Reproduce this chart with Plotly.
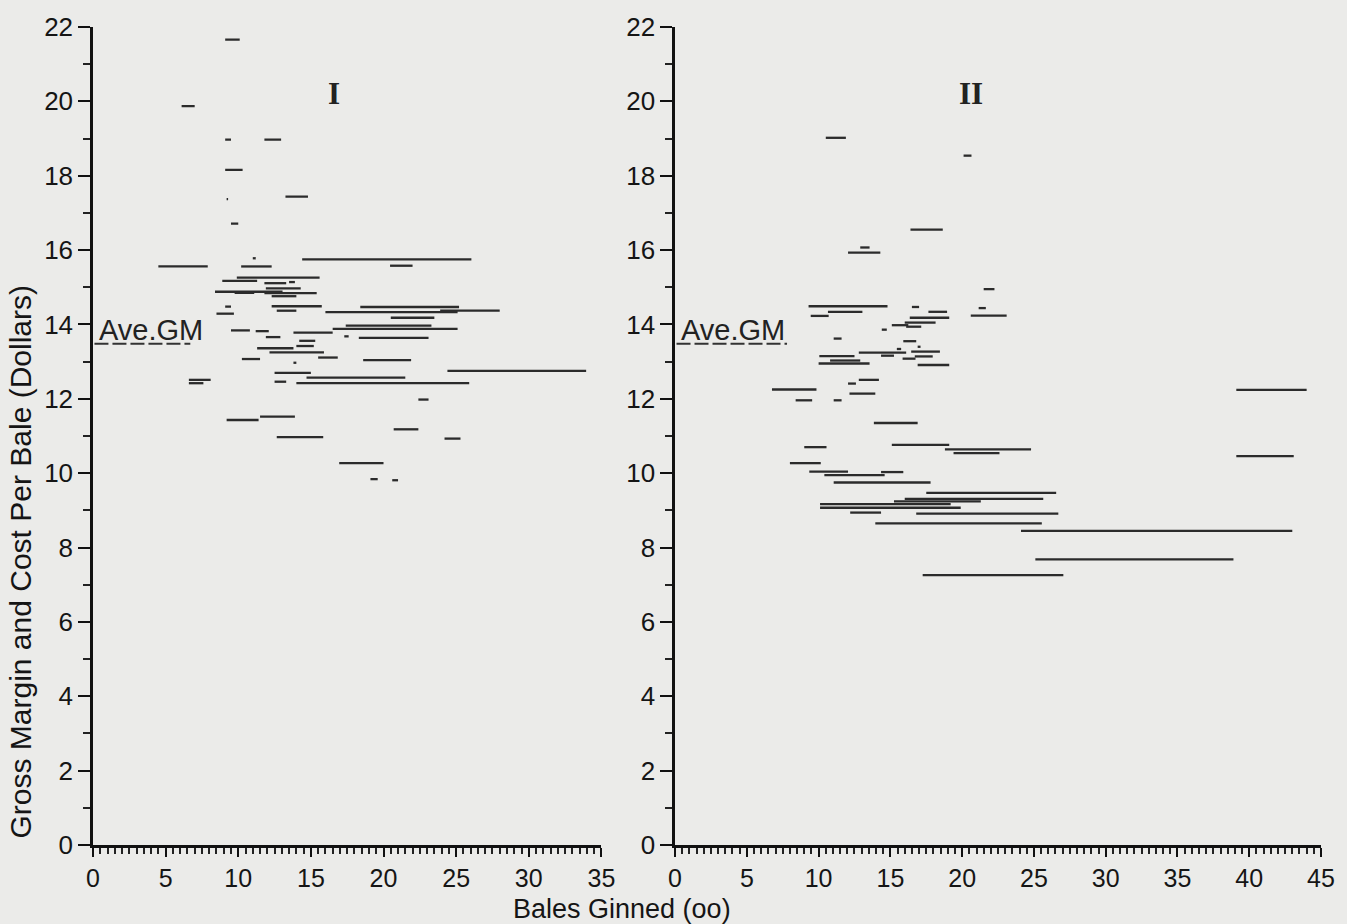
import plotly.graph_objects as go

# ---------------- Panel I segments (x0, x1 in hundreds of bales; y in dollars) ----------------
p1_x0 = [9.1, 6.1, 9.1, 11.8, 9.1, 9.2, 13.25, 9.5,
         11.0, 14.4, 4.5, 10.2, 20.45, 9.9, 8.9, 11.8, 13.5, 11.9, 9.75, 11.8, 8.4, 12.3,
         12.3, 9.1, 12.65, 8.5, 18.4, 16.0, 23.9, 20.5, 17.4, 16.5, 9.5, 11.2, 13.8, 11.9,
         17.3, 18.3, 14.2, 14.0, 11.3, 12.15, 10.25, 15.5, 13.8, 18.6, 12.5, 24.4, 14.7,
         6.6, 6.6, 12.5, 14.0, 22.4, 11.5, 9.2, 20.7, 12.65, 24.2, 16.95, 19.1, 20.6]
p1_x1 = [10.1, 7.0, 9.5, 12.95, 10.3, 9.3, 14.8, 10.0,
         11.2, 26.05, 7.9, 12.3, 22.0, 15.6, 11.3, 13.3, 13.9, 14.3, 11.1, 15.4, 13.05, 14.0,
         15.75, 9.5, 14.0, 9.7, 25.2, 25.1, 28.0, 23.5, 23.3, 25.1, 10.8, 12.1, 16.5, 12.9,
         17.6, 23.1, 15.3, 15.2, 13.8, 15.9, 11.5, 16.85, 14.0, 21.9, 15.0, 33.95, 21.5,
         8.1, 7.6, 13.3, 25.9, 23.1, 13.9, 11.4, 22.4, 15.85, 25.3, 20.0, 19.6, 21.0]
p1_y = [21.66, 19.87, 18.97, 18.97, 18.16, 17.37, 17.44, 16.71,
        15.78, 15.75, 15.56, 15.56, 15.58, 15.26, 15.17, 15.11, 15.14, 14.97, 14.85, 14.84, 14.88, 14.76,
        14.49, 14.48, 14.37, 14.29, 14.47, 14.33, 14.37, 14.18, 13.97, 13.88, 13.84, 13.82, 13.78, 13.66,
        13.68, 13.64, 13.56, 13.42, 13.36, 13.25, 13.07, 13.11, 12.97, 13.04, 12.70, 12.75, 12.57,
        12.51, 12.42, 12.46, 12.42, 11.98, 11.52, 11.43, 11.18, 10.97, 10.93, 10.27, 9.84, 9.81]

# ---------------- Panel II segments ----------------
p2_x0 = [10.5, 20.1, 16.4, 12.9, 12.05, 21.5,
         9.3, 16.5, 21.15, 10.65, 17.65, 9.45, 20.6, 16.35, 16.0, 15.1, 16.1, 14.4, 11.05,
         15.9, 15.45, 16.9, 16.45, 12.8, 14.35, 10.05, 16.7, 15.85, 10.8, 10.0, 16.9,
         12.8, 12.05, 6.75, 12.15, 8.4, 11.05,
         13.85, 9.0, 15.1, 18.8, 19.4, 8.0, 9.35, 10.4, 14.35, 11.05, 17.5, 16.0, 15.25,
         10.1, 10.1, 12.2, 16.8, 13.95, 24.1, 25.1, 17.25, 39.1, 39.1]
p2_x1 = [11.9, 20.65, 18.65, 13.55, 14.3, 22.25,
         14.8, 17.0, 21.65, 13.05, 18.95, 10.7, 23.1, 19.1, 18.15, 16.25, 17.15, 14.75, 11.6,
         16.8, 15.75, 17.1, 18.45, 16.1, 15.25, 12.5, 17.95, 16.75, 12.9, 13.55, 19.1,
         14.2, 12.6, 9.85, 13.95, 9.55, 11.6,
         16.9, 10.55, 19.1, 24.8, 22.6, 10.15, 12.05, 14.6, 15.9, 17.8, 26.55, 25.65, 21.3,
         19.2, 19.9, 14.35, 26.7, 25.55, 43.0, 38.9, 27.05, 44.0, 43.1]
p2_y = [19.02, 18.54, 16.55, 16.07, 15.93, 14.95,
        14.49, 14.47, 14.44, 14.34, 14.34, 14.23, 14.24, 14.18, 14.05, 13.98, 13.94, 13.86, 13.62,
        13.55, 13.34, 13.40, 13.27, 13.24, 13.16, 13.15, 13.14, 13.08, 13.03, 12.95, 12.91,
        12.51, 12.41, 12.25, 12.14, 11.96, 11.96,
        11.35, 10.70, 10.76, 10.64, 10.54, 10.27, 10.04, 9.95, 10.03, 9.75, 9.47, 9.31, 9.24,
        9.17, 9.07, 8.94, 8.91, 8.65, 8.45, 7.68, 7.26, 12.24, 10.46]

ave_gm = 13.48
ave_gm_x1 = [6.7, 7.8]

x_ticks_1 = [0, 5, 10, 15, 20, 25, 30, 35]
x_ticks_2 = [0, 5, 10, 15, 20, 25, 30, 35, 40, 45]
y_ticks = [0, 2, 4, 6, 8, 10, 12, 14, 16, 18, 20, 22]

BG = "#ebebe9"
INK = "#2b2b2b"
XTICKFONT = dict(family="Liberation Sans, sans-serif", size=25, color="#151515")
YTICKFONT = dict(family="Liberation Sans, sans-serif", size=26, color="#151515")


def seg_xy(x0, x1, y):
    xs, ys = [], []
    for a, b, c in zip(x0, x1, y):
        xs += [a, b, None]
        ys += [c, c, None]
    return xs, ys


fig = go.Figure()
for (x0, x1, yy, xa, ya) in [(p1_x0, p1_x1, p1_y, "x", "y"), (p2_x0, p2_x1, p2_y, "x2", "y2")]:
    xs, ys = seg_xy(x0, x1, yy)
    fig.add_trace(go.Scatter(x=xs, y=ys, mode="lines", xaxis=xa, yaxis=ya,
                             line=dict(color=INK, width=2.3), showlegend=False, hoverinfo="skip"))

# Average gross margin dashed markers
for xe, xa, ya in [(ave_gm_x1[0], "x", "y"), (ave_gm_x1[1], "x2", "y2")]:
    fig.add_trace(go.Scatter(x=[0.1, xe], y=[ave_gm, ave_gm], mode="lines", xaxis=xa, yaxis=ya,
                             line=dict(color="#333", width=2, dash="14px,4px"),
                             showlegend=False, hoverinfo="skip"))

common_x = dict(showline=True, linecolor="#111", linewidth=2.5, ticks="outside", ticklen=9,
                tickwidth=2, tickcolor="#111", showgrid=False, zeroline=False,
                tickfont=XTICKFONT, minor=dict(dtick=0.5, ticklen=6, tickcolor="#222", tickwidth=1.5,
                                                ticks="outside", showgrid=False))
common_y = dict(showline=True, linecolor="#111", linewidth=2.5, ticks="outside", ticklen=12,
                tickwidth=2, tickcolor="#111", showgrid=False, zeroline=False, range=[0, 22],
                tickvals=y_ticks, tickfont=YTICKFONT,
                minor=dict(dtick=1, ticklen=7, tickcolor="#222", tickwidth=1.5, ticks="outside",
                           showgrid=False))

fig.update_layout(
    width=1347, height=924,
    margin=dict(l=93, r=22, t=22, b=79),
    paper_bgcolor=BG, plot_bgcolor=BG,
    xaxis=dict(domain=[0, 0.414], range=[0, 35], tickvals=x_ticks_1, anchor="y", **common_x),
    yaxis=dict(domain=[0, 1], anchor="x", **common_y),
    xaxis2=dict(domain=[0.474, 1], range=[0, 45], tickvals=x_ticks_2, anchor="y2", **common_x),
    yaxis2=dict(domain=[0, 1], anchor="x2", **common_y),
)

ann = [
    dict(text="<b>I</b>", xref="x", yref="y", x=16.6, y=20.2, showarrow=False,
         font=dict(family="Liberation Serif, serif", size=31, color="#222")),
    dict(text="<b>II</b>", xref="x2", yref="y2", x=20.6, y=20.2, showarrow=False,
         font=dict(family="Liberation Serif, serif", size=31, color="#222")),
    dict(text="Ave.GM", xref="x", yref="y", x=0.25, y=13.36, xanchor="left", yanchor="bottom",
         showarrow=False, font=dict(family="Liberation Sans, sans-serif", size=29, color="#222")),
    dict(text="Ave.GM", xref="x2", yref="y2", x=0.25, y=13.36, xanchor="left", yanchor="bottom",
         showarrow=False, font=dict(family="Liberation Sans, sans-serif", size=29, color="#222")),
    dict(text="Gross Margin and Cost Per Bale (Dollars)", xref="paper", yref="paper",
         x=-0.059, y=0.346, textangle=-90, showarrow=False, xanchor="center", yanchor="middle",
         font=dict(family="Liberation Sans, sans-serif", size=30, color="#151515")),
    dict(text="Bales Ginned (oo)", xref="paper", yref="paper",
         x=0.431, y=-0.0785, showarrow=False, xanchor="center", yanchor="middle",
         font=dict(family="Liberation Sans, sans-serif", size=27, color="#151515")),
]
fig.update_layout(annotations=ann)

fig.write_html(
    "out.html",
    config={"displayModeBar": False},
    post_script="document.body.style.margin='0';document.body.style.background='#ebebe9';",
)
